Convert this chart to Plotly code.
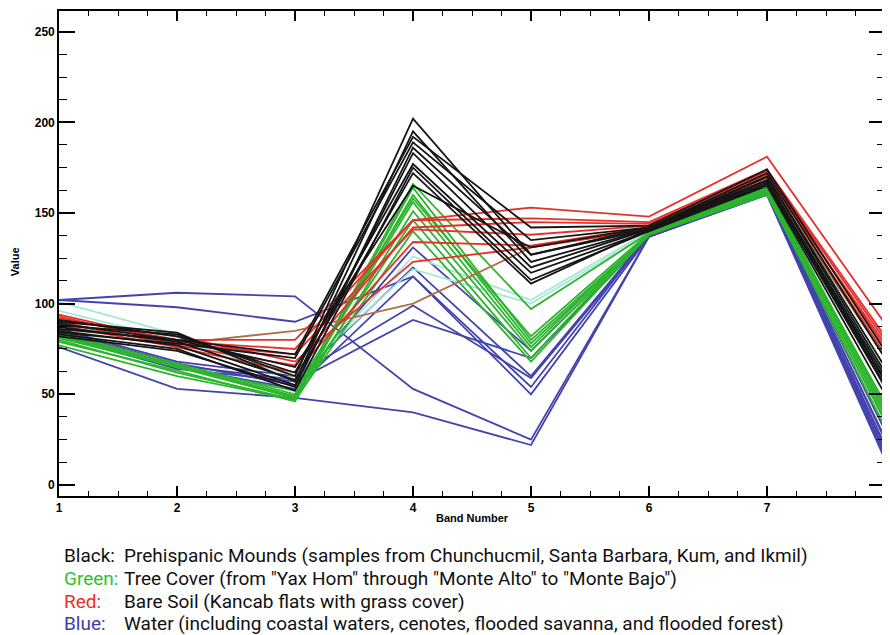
import plotly.graph_objects as go

BANDS = [1, 2, 3, 4, 5, 6, 7, 8]

# Black: Prehispanic mounds
MOUNDS = [
    [88, 83, 60, 202, 127, 142, 172, 70],
    [90, 84, 57, 195, 123, 141, 170, 65],
    [86, 80, 72, 192, 142, 143, 174, 74],
    [84, 78, 70, 189, 135, 142, 168, 60],
    [85, 77, 55, 183, 120, 141, 167, 55],
    [91, 82, 62, 177, 117, 140, 166, 54],
    [83, 75, 52, 175, 113, 140, 165, 50],
    [87, 79, 58, 172, 111, 141, 168, 58],
    [89, 80, 65, 165, 131, 142, 170, 62],
    [82, 74, 54, 186, 127, 141, 166, 57],
]

# Green: tree cover
TREES = [
    [82, 66, 48, 166, 97, 139, 165, 43],
    [80, 62, 47, 164, 80, 138, 163, 38],
    [81, 65, 48, 160, 78, 138, 162, 35],
    [84, 67, 50, 156, 76, 139, 163, 40],
    [79, 63, 46, 151, 74, 138, 161, 32],
    [83, 66, 49, 146, 70, 139, 164, 42],
    [77, 60, 47, 140, 68, 138, 160, 36],
    [82, 65, 52, 158, 82, 139, 162, 45],
]

# light aquamarine tree-cover variants
TREES_LIGHT = [
    [101, 83, 57, 126, 102, 140, 166, 63],
    [96, 80, 60, 119, 100, 139, 165, 55],
]

# Red: bare soil
SOIL = [
    [94, 79, 75, 146, 153, 148, 181, 89],
    [92, 80, 80, 146, 147, 145, 174, 82],
    [90, 77, 66, 142, 145, 144, 173, 80],
    [93, 78, 72, 141, 138, 143, 172, 76],
    [88, 76, 62, 134, 132, 142, 171, 72],
    [91, 82, 68, 123, 131, 141, 170, 78],
]

SOIL_BROWN = [
    [89, 78, 85, 100, 131, 141, 169, 70],
]

# Blue: water
WATER = [
    [102, 106, 104, 53, 25, 137, 161, 18],
    [102, 98, 90, 115, 54, 138, 162, 25],
    [76, 53, 48, 40, 22, 137, 160, 14],
    [85, 67, 55, 131, 74, 138, 162, 30],
    [83, 66, 58, 120, 60, 138, 161, 22],
    [84, 65, 53, 115, 50, 137, 161, 20],
    [86, 68, 60, 99, 59, 137, 160, 16],
    [82, 64, 57, 91, 70, 137, 161, 26],
]

Y_TICKS = [0, 50, 100, 150, 200, 250]

LEGEND_LABELS = ["Black:", "Green:", "Red:", "Blue:"]
LEGEND_COLORS = ["#111111", "#2fbf2f", "#e8302a", "#3d3db0"]
LEGEND_TEXT = [
    "Prehispanic Mounds (samples from Chunchucmil, Santa Barbara, Kum, and Ikmil)",
    "Tree Cover (from \"Yax Hom\" through \"Monte Alto\" to \"Monte Bajo\")",
    "Bare Soil (Kancab flats with grass cover)",
    "Water (including coastal waters, cenotes, flooded savanna, and flooded forest)",
]

fig = go.Figure()


def add_group(group, color, width=1.8):
    for s in group:
        fig.add_trace(go.Scatter(x=BANDS, y=s, mode="lines",
                                 line=dict(color=color, width=width),
                                 showlegend=False, hoverinfo="skip"))


add_group(WATER, "#4343ad")
add_group(TREES_LIGHT, "#a6e8d6")
add_group(TREES, "#2db52d")
add_group(SOIL_BROWN, "#b0704a")
add_group(SOIL, "#e8302a")
add_group(MOUNDS, "#151515")

# page has an 8px body margin: the figure is shrunk and shifted by it
OFF = 8
W, H = 890 - OFF, 635 - OFF
L, T = 59 - OFF, 11 - OFF
R = W - (889 - OFF)
B = H - (496 - OFF)
pw, ph = W - L - R, H - T - B


def px(x):
    return (x - OFF - L) / pw


def py(y):
    return (H - B - (y - OFF)) / ph


axis_common = dict(showline=True, linecolor="black", linewidth=1.6,
                   mirror="ticks", ticks="inside", tickcolor="black",
                   tickwidth=1.6, showgrid=False, zeroline=False,
                   ticklabeloverflow="allow",
                   tickfont=dict(family="Liberation Sans, Arial", size=12, color="black"))

fig.update_layout(
    width=W, height=H,
    margin=dict(l=L, r=R, t=T, b=B),
    paper_bgcolor="white", plot_bgcolor="white",
    xaxis=dict(range=[1, 8], tickvals=BANDS, ticklen=10,
               minor=dict(dtick=0.25, ticklen=5, ticks="inside",
                          tickcolor="black", tickwidth=1.4),
               **axis_common),
    yaxis=dict(range=[-6.1, 261.4], tickvals=Y_TICKS, ticklen=16,
               minor=dict(dtick=12.5, ticklen=8, ticks="inside",
                          tickcolor="black", tickwidth=1.4),
               **axis_common),
)

# bold tick labels
fig.update_xaxes(ticktext=["<b>%d</b>" % b for b in BANDS])
fig.update_yaxes(ticktext=["<b>%d</b>" % v for v in Y_TICKS])

fig.add_annotation(text="<b>Band Number</b>", xref="paper", yref="paper",
                   x=px(475), y=py(518), xanchor="center", yanchor="middle",
                   showarrow=False,
                   font=dict(family="Liberation Sans, Arial", size=11, color="black"))
fig.add_annotation(text="<b>Value</b>", xref="paper", yref="paper",
                   x=px(15), y=py(262), xanchor="center", yanchor="middle",
                   showarrow=False, textangle=-90,
                   font=dict(family="Liberation Sans, Arial", size=11, color="black"))

rows_y = [555, 578, 601, 623]
for lab, col, txt, yy in zip(LEGEND_LABELS, LEGEND_COLORS, LEGEND_TEXT, rows_y):
    fig.add_annotation(text=lab, xref="paper", yref="paper", x=px(62), y=py(yy),
                       xanchor="left", yanchor="middle", showarrow=False,
                       font=dict(family="Roboto", size=19, color=col))
    fig.add_annotation(text=txt, xref="paper", yref="paper", x=px(122), y=py(yy),
                       xanchor="left", yanchor="middle", showarrow=False,
                       font=dict(family="Roboto", size=19, color="#111111"))

fig.write_html("out.html")
